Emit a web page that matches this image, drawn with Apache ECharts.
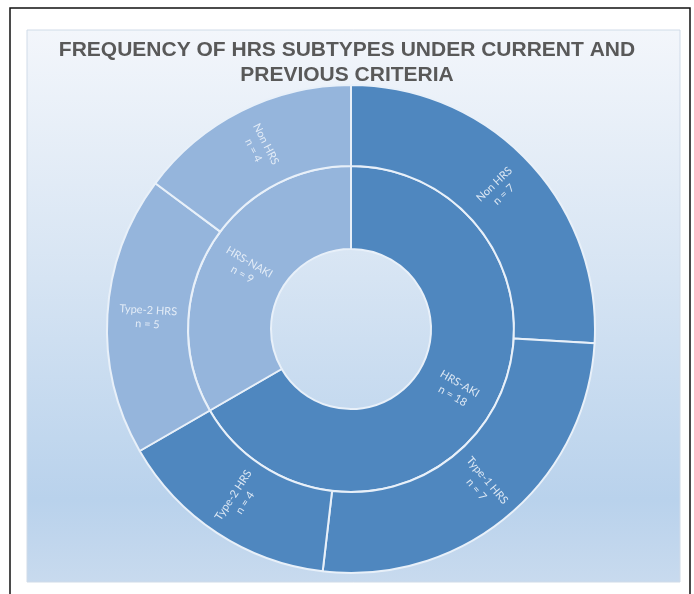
<!DOCTYPE html>
<html>
<head>
<meta charset="utf-8">
<script src="https://cdn.jsdelivr.net/npm/echarts@6/dist/echarts.min.js"></script>
<style>
html,body{margin:0;padding:0;background:#ffffff;}
#chart{width:694px;height:594px;}
</style>
</head>
<body>
<div id="chart"></div>
<script>
// Data
var innerNames = ['HRS-AKI', 'HRS-NAKI'];
var innerValues = [18, 9];
var outerNames = ['Non HRS', 'Type-1 HRS', 'Type-2 HRS', 'Type-2 HRS', 'Non HRS'];
var outerValues = [7, 7, 4, 5, 4];
var outerParent = [0, 0, 0, 1, 1];
var titleText = 'FREQUENCY OF HRS SUBTYPES UNDER CURRENT AND\nPREVIOUS CRITERIA';

var innerColors = ['#4f87bf', '#95b5dc'];

var data = innerNames.map(function (n, i) {
  var children = [];
  outerNames.forEach(function (on, j) {
    if (outerParent[j] === i) children.push({ name: on, value: outerValues[j], itemStyle: { color: innerColors[i] } });
  });
  return { name: n, value: innerValues[i], itemStyle: { color: innerColors[i] }, children: children };
});

var chart = echarts.init(document.getElementById('chart'));
chart.setOption({
  animation: false,
  title: {
    text: titleText,
    left: 'center',
    top: 33,
    textStyle: {
      fontFamily: 'Liberation Sans',
      fontWeight: 'bold',
      fontSize: 21,
      lineHeight: 25,
      color: '#595959',
      align: 'center'
    }
  },
  graphic: [
    {
      type: 'rect', z: -10, silent: true,
      shape: { x: 27, y: 30, width: 653, height: 552 },
      style: {
        fill: new echarts.graphic.LinearGradient(0, 0, 0, 1, [
          { offset: 0, color: '#f3f6fb' },
          { offset: 0.45, color: '#d6e4f3' },
          { offset: 0.85, color: '#b9d2ec' },
          { offset: 1, color: '#c8daee' }
        ]),
        stroke: '#d0dbe8', lineWidth: 1
      }
    },
    {
      type: 'rect', z: -9, silent: true,
      shape: { x: 10, y: 8, width: 680, height: 620 },
      style: { fill: 'none', stroke: '#111111', lineWidth: 1.5 }
    }
  ],
  series: [{
    type: 'sunburst',
    center: [351, 329],
    radius: [80, 244],
    sort: null,
    startAngle: 90,
    nodeClick: false,
    emphasis: { disabled: true },
    data: data,
    itemStyle: { borderColor: '#e8f0f9', borderWidth: 2 },
    label: {
      rotate: 'radial',
      color: 'rgba(235,242,250,0.9)',
      fontFamily: 'Lato',
      fontSize: 11,
      lineHeight: 14,
      align: 'center',
      formatter: function (p) { return p.name + '\nn = ' + p.value; }
    },
    levels: [
      {},
      { r0: 80, r: 163 },
      { r0: 163, r: 244 }
    ]
  }]
});
</script>
</body>
</html>
